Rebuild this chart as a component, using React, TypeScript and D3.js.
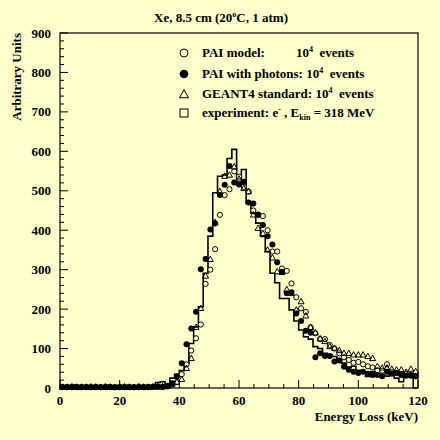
import * as d3 from "d3";

// bin width of the histograms (keV), 75 bins over 0..120
const BIN = 1.6;

const expCounts = [
  3, 2, 3, 2, 3, 2, 3, 2, 2, 3, 2, 3, 2, 2, 3, 2, 3, 2, 3,
  5, 14, 16, 10, 25, 35, 44, 63, 113, 155, 206, 291, 385, 495, 537, 540, 582, 605, 520, 554,
  468, 443, 418, 384, 346, 291, 267, 227, 227, 198, 170, 147, 130, 124, 105, 100, 88, 84, 80,
  70, 63, 53, 55, 45, 40, 29, 41, 35, 33, 30, 36, 25, 16, 29, 29, 0,
];

const paiCounts = [
  2, 3, 2, 2, 3, 2, 2, 3, 2, 2, 3, 2, 2, 3, 2, 2, 2, 3, 2, 3, 3,
  3, 4, 8, 15,
  35, 60, 95, 126, 161, 264, 300, 352, 439, 489, 504, 549, 536, 510, 498, 450, 439, 436, 400, 346,
  346, 303, 297, 265, 230, 202, 193, 154, 139, 124, 124, 109, 100, 88, 78, 71, 64, 66, 60, 55,
  52, 45, 44, 60, 40, 38, 36, 35, 33, 30,
];

const photonCounts = [
  3, 2, 3, 3, 2, 3, 2, 3, 2, 3, 3, 2, 3, 2, 3, 2, 3, 2, 3, 3, 4,
  3, 5, 12, 29,
  63, 111, 151, 193, 301, 327, 402, 417, 489, 515, 563, 521, 516, 523, 470, 468, 440, 413, 385, 364,
  319, 295, 240, 243, 189, 170, 145, 140, 78, 88, 81, 81, 67, 70, 54, 46, 41, 38, 41, 36,
  33, 33, 30, 41, 36, 38, 33, 31, 31, 30,
];

const geantCounts = [
  2, 2, 3, 2, 2, 2, 3, 2, 2, 3, 2, 2, 2, 3, 2, 2, 3, 2, 2, 3, 3,
  3, 5, 10, 15,
  22, 50, 75, 154, 202, 284, 326, 420, 498, 537, 540, 561, 530, 506, 498, 439, 405, 392, 350, 330,
  295, 293, 250, 240, 198, 219, 183, 154, 140, 125, 118, 105, 101, 95, 88, 88, 84, 84, 84, 80,
  75, 55, 51, 51, 48, 46, 46, 40, 48, 42,
];

const xTicks = [0, 20, 40, 60, 80, 100, 120];
const yTicks = [0, 100, 200, 300, 400, 500, 600, 700, 800, 900];

const BG = "#ffffcc";
const FONT = "'Liberation Serif', 'Times New Roman', serif";
const FS = 13;

const left = 60;
const right = 418;
const top = 33;
const bottom = 388;

const x = d3.scaleLinear().domain([0, 120]).range([left, right]);
const y = d3.scaleLinear().domain([0, 900]).range([bottom, top]);

function triangle(cx: number, cy: number, s: number) {
  const h = s * 0.9;
  return `M${cx},${cy - h * 0.6}L${cx + s / 2},${cy + h * 0.4}L${cx - s / 2},${cy + h * 0.4}Z`;
}

export default function App() {
  const steps: [number, number][] = expCounts.map((v, i) => [i * BIN, v]);
  steps.push([120, expCounts[expCounts.length - 1]]);
  const histPath =
    d3
      .line<[number, number]>()
      .curve(d3.curveStepAfter)
      .x((d) => x(d[0]))
      .y((d) => y(d[1]))(steps) ?? "";

  const centre = (i: number) => x((i + 0.5) * BIN);

  const xMinor = d3.range(0, 121, 5);
  const yMinor = d3.range(0, 901, 20);

  return (
    <svg
      width={440}
      height={440}
      style={{ position: "absolute", left: 0, top: 0, background: BG }}
      fontFamily={FONT}
      fontWeight="bold"
    >
      <rect x={0} y={0} width={440} height={440} fill={BG} />
      <text x={221} y={22} fontSize={FS} textAnchor="middle">
        Xe, 8.5 cm (20
        <tspan dy={-5} fontSize={8}>
          o
        </tspan>
        <tspan dy={5}>C, 1 atm)</tspan>
      </text>

      {/* ticks */}
      {xMinor.map((t) => (
        <line key={`xt${t}`} x1={x(t)} x2={x(t)} y1={bottom} y2={bottom - (t % 20 === 0 ? 8 : 4)} stroke="#000" />
      ))}
      {yMinor.map((t) => (
        <line key={`yt${t}`} x1={left} x2={left + (t % 100 === 0 ? 8 : 4)} y1={y(t)} y2={y(t)} stroke="#000" />
      ))}
      {xTicks.map((t) => (
        <text key={`xl${t}`} x={x(t)} y={405} fontSize={FS} textAnchor="middle">
          {t}
        </text>
      ))}
      {yTicks.map((t) => (
        <text key={`yl${t}`} x={51} y={y(t) + 4.5} fontSize={FS} textAnchor="end">
          {t}
        </text>
      ))}
      <text x={418} y={421} fontSize={FS} textAnchor="end">
        Energy Loss (keV)
      </text>
      <text transform={`translate(21,${top}) rotate(-90)`} fontSize={FS} textAnchor="end">
        Arbitrary Units
      </text>

      {/* experiment histogram */}
      <path d={histPath} fill="none" stroke="#000" strokeWidth={1.6} />

      {/* PAI model */}
      {paiCounts.map((v, i) => (
        <circle key={`p${i}`} cx={centre(i)} cy={y(v)} r={2.6} fill={BG} stroke="#000" strokeWidth={1} />
      ))}
      {/* PAI with photons */}
      {photonCounts.map((v, i) => (
        <circle key={`f${i}`} cx={centre(i)} cy={y(v)} r={3} fill="#000" />
      ))}
      {/* GEANT4 standard */}
      {geantCounts.map((v, i) => (
        <path key={`g${i}`} d={triangle(centre(i), y(v), 6)} fill="none" stroke="#000" strokeWidth={1} />
      ))}

      <rect x={left} y={top} width={right - left} height={bottom - top} fill="none" stroke="#000" strokeWidth={1.2} />

      {/* legend */}
      <g fontSize={FS}>
        <circle cx={184} cy={53} r={4} fill={BG} stroke="#000" />
        <text x={202} y={57}>PAI model:</text>
        <text x={296} y={57}>
          10<tspan dy={-5} fontSize={8}>4</tspan>
          <tspan dy={5}>{"\u00a0\u00a0events"}</tspan>
        </text>

        <circle cx={184} cy={74} r={4.3} fill="#000" />
        <text x={202} y={78}>
          PAI with photons: 10<tspan dy={-5} fontSize={8}>4</tspan>
          <tspan dy={5}>{"\u00a0\u00a0events"}</tspan>
        </text>

        <path d={triangle(184, 94.5, 9)} fill="none" stroke="#000" />
        <text x={202} y={98}>
          GEANT4 standard: 10<tspan dy={-5} fontSize={8}>4</tspan>
          <tspan dy={5}>{"\u00a0\u00a0events"}</tspan>
        </text>

        <rect x={180} y={109} width={8} height={8} fill="none" stroke="#000" />
        <text x={202} y={117}>
          experiment: e<tspan dy={-5} fontSize={8}>-</tspan>
          <tspan dy={5}>{"\u00a0, E"}</tspan>
          <tspan dy={3} fontSize={8}>kin</tspan>
          <tspan dy={-3}>{"\u00a0= 318 MeV"}</tspan>
        </text>
      </g>
    </svg>
  );
}
